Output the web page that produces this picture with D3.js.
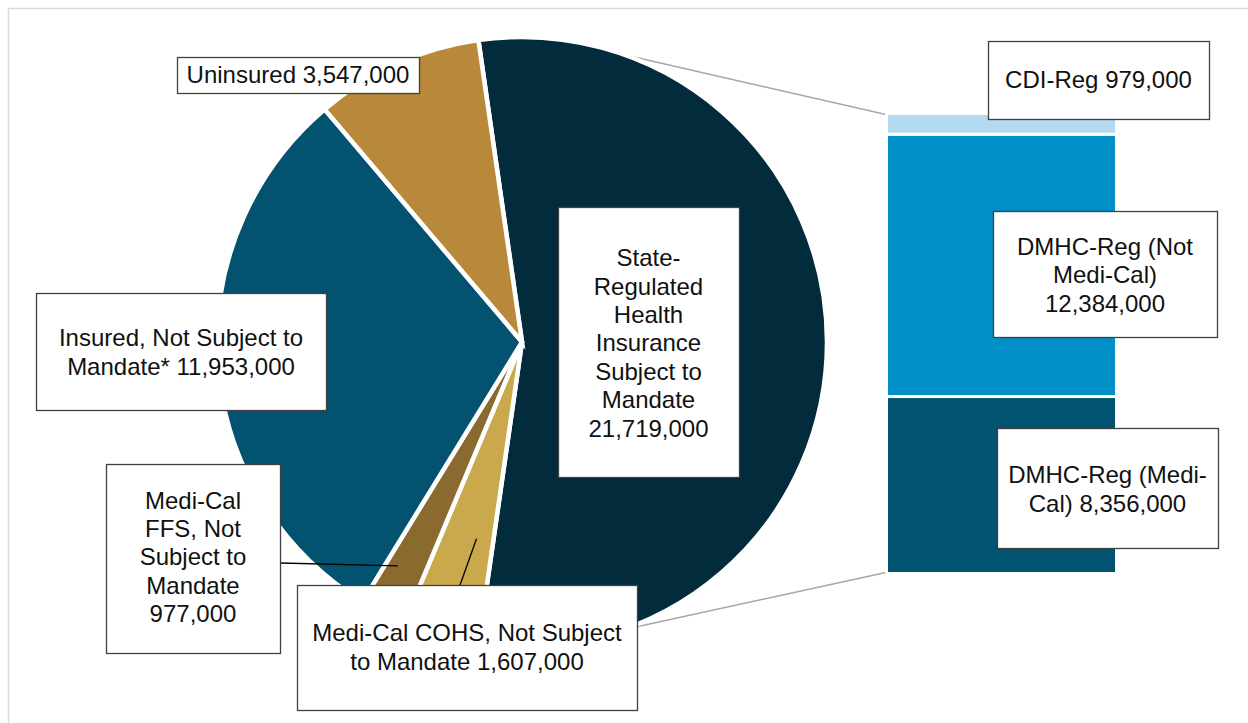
<!DOCTYPE html>
<html>
<head>
<meta charset="utf-8">
<script src="https://cdn.jsdelivr.net/npm/d3@7"></script>
<style>
  body { margin: 0; background: #fff; }
  text { font-family: Arial, "Liberation Sans", sans-serif; }
</style>
</head>
<body>
<div id="chart"></div>
<script>
// pie slices, clockwise starting with the split slice
var pieNames = ["State-Regulated Health Insurance Subject to Mandate",
  "Medi-Cal COHS, Not Subject to Mandate",
  "Medi-Cal FFS, Not Subject to Mandate",
  "Insured, Not Subject to Mandate*",
  "Uninsured"];
var pieValues = [21719000, 1607000, 977000, 11953000, 3547000];

// the bar that breaks down the first slice, bottom to top
var barNames = ["DMHC-Reg (Medi-Cal)", "DMHC-Reg (Not Medi-Cal)", "CDI-Reg"];
var barValues = [8356000, 12384000, 979000];

var pieColors = ["#022b3c", "#caa94d", "#8b6a2f", "#03526f", "#b8893a"];
var barColors = ["#01536f", "#008fc7", "#b4daf2"];

var W = 1248, H = 723;
var cx = 522, cy = 342, R = 305;

var svg = d3.select("#chart").append("svg")
  .attr("width", W).attr("height", H);

// chart area border
svg.append("rect")
  .attr("x", 8.5).attr("y", 8.5)
  .attr("width", 1300).attr("height", 800)
  .attr("fill", "none").attr("stroke", "#d9d9d9").attr("stroke-width", 1.5);

var total = d3.sum(pieValues);
// first slice centred on 3 o'clock, like excel pie-of-bar
var start = Math.PI / 2 - (pieValues[0] / total) * Math.PI;

var pie = d3.pie().sort(null).value(d => d)
  .startAngle(start).endAngle(start + 2 * Math.PI);
var arcs = pie(pieValues);
var arc = d3.arc().innerRadius(0).outerRadius(R);

// bar scales
var y = d3.scaleLinear().domain([0, d3.sum(barValues)]).range([573.5, 113.5]);
var bx0 = 886.5, bx1 = 1116.5;

// connector lines, tangent from bar corners to the pie
var rVis = R - 2.25;
function tangent(px, py, upper) {
  var dx = px - cx, dy = py - cy;
  var d = Math.sqrt(dx * dx + dy * dy);
  var th = Math.atan2(dy, dx);
  var a = Math.acos(rVis / d);
  var t = upper ? th - a : th + a;
  return [cx + rVis * Math.cos(t), cy + rVis * Math.sin(t)];
}
[[888, y.range()[1] + 1.5, true], [888, y.range()[0] - 1.5, false]].forEach(function(p) {
  var t = tangent(p[0], p[1], p[2]);
  svg.append("line")
    .attr("x1", t[0]).attr("y1", t[1])
    .attr("x2", p[0]).attr("y2", p[1])
    .attr("stroke", "#a6a6a6").attr("stroke-width", 1.5);
});

// pie
svg.append("g")
  .attr("transform", `translate(${cx},${cy})`)
  .selectAll("path")
  .data(arcs)
  .enter()
  .append("path")
  .attr("d", arc)
  .attr("fill", (d, i) => pieColors[i])
  .attr("stroke", "#fff")
  .attr("stroke-width", 4.5)
  .attr("stroke-linejoin", "miter");

// stacked bar
var cum = 0;
var barData = barValues.map(function(v, i) {
  var o = { v0: cum, v1: cum + v, i: i };
  cum += v;
  return o;
});
svg.append("g").selectAll("rect")
  .data(barData)
  .enter()
  .append("rect")
  .attr("x", bx0)
  .attr("width", bx1 - bx0)
  .attr("y", d => y(d.v1))
  .attr("height", d => y(d.v0) - y(d.v1))
  .attr("fill", d => barColors[d.i])
  .attr("stroke", "#fff")
  .attr("stroke-width", 3);

// point inside a slice, at a fraction of its angle and a radius
function slicePoint(i, frac, r) {
  var a = arcs[i].startAngle + frac * (arcs[i].endAngle - arcs[i].startAngle);
  return [cx + r * Math.sin(a), cy - r * Math.cos(a)];
}

// leader lines
var ffsPt = slicePoint(2, 0.71, 256);
var cohsPt = slicePoint(1, 0.33, 202);
svg.append("line")
  .attr("x1", 280).attr("y1", 563).attr("x2", ffsPt[0]).attr("y2", ffsPt[1])
  .attr("stroke", "#000").attr("stroke-width", 1.3);
svg.append("line")
  .attr("x1", 459).attr("y1", 588).attr("x2", cohsPt[0]).attr("y2", cohsPt[1])
  .attr("stroke", "#000").attr("stroke-width", 1.3);

// data labels: box and wrapped text lines
var labels = [
  { box: [558, 207, 181, 270], cy: 343, lines: ["State-", "Regulated", "Health", "Insurance", "Subject to", "Mandate", "21,719,000"] },
  { box: [297, 585, 340, 125], cy: 647, lines: ["Medi-Cal COHS, Not Subject", "to Mandate 1,607,000"] },
  { box: [106, 464, 174, 189], cy: 557, lines: ["Medi-Cal", "FFS, Not", "Subject to", "Mandate", "977,000"] },
  { box: [36, 293, 290, 117], cy: 352, lines: ["Insured, Not Subject to", "Mandate* 11,953,000"] },
  { box: [177, 57, 242, 36], cy: 75, lines: ["Uninsured 3,547,000"] },
  { box: [997, 428, 221, 120], cy: 489, lines: ["DMHC-Reg (Medi-", "Cal) 8,356,000"] },
  { box: [993, 211, 224, 126], cy: 275, lines: ["DMHC-Reg (Not", "Medi-Cal)", "12,384,000"] },
  { box: [988, 41, 221, 78], cy: 80, lines: ["CDI-Reg 979,000"] }
];
var lh = 28.4;

var lab = svg.append("g").selectAll("g")
  .data(labels)
  .enter()
  .append("g");

lab.append("rect")
  .attr("x", d => d.box[0] + 0.5)
  .attr("y", d => d.box[1] + 0.5)
  .attr("width", d => d.box[2])
  .attr("height", d => d.box[3])
  .attr("fill", "#fff")
  .attr("stroke", "#404040")
  .attr("stroke-width", 1.3);

lab.each(function(d) {
  var g = d3.select(this);
  var x = d.box[0] + d.box[2] / 2;
  var top = d.cy - (d.lines.length - 1) * lh / 2;
  d.lines.forEach(function(s, k) {
    g.append("text")
      .attr("x", x)
      .attr("y", top + k * lh)
      .attr("dy", "0.35em")
      .attr("text-anchor", "middle")
      .attr("font-size", "24px")
      .attr("fill", "#111")
      .text(s);
  });
});
</script>
</body>
</html>
